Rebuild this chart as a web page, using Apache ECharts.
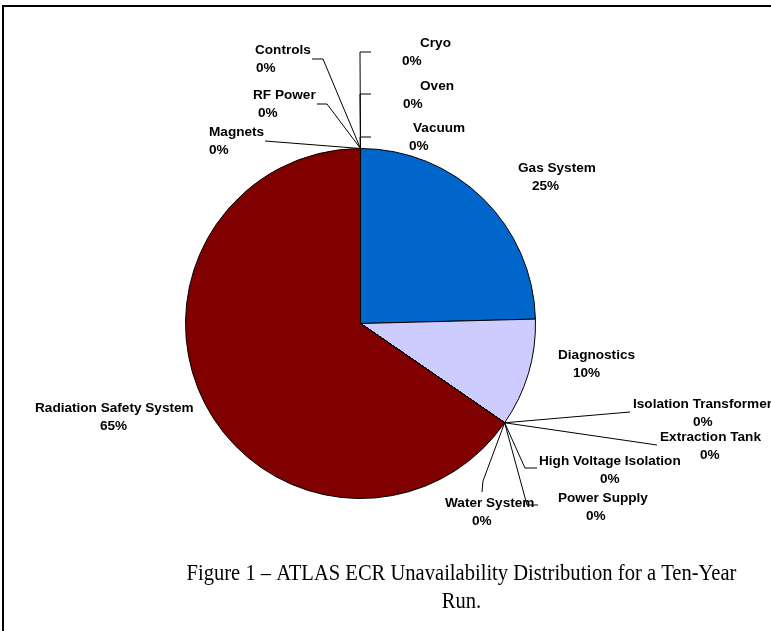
<!DOCTYPE html>
<html>
<head>
<meta charset="utf-8">
<style>
  html, body { margin: 0; padding: 0; background: #fff; }
  #chart { width: 771px; height: 631px; }
</style>
<script src="https://cdn.jsdelivr.net/npm/echarts@6/dist/echarts.min.js"></script>
</head>
<body>
<div id="chart"></div>
<script>
// ---- data ----
const categories = [
  'Cryo', 'Oven', 'Vacuum', 'Gas System', 'Diagnostics',
  'Isolation Transformer', 'Extraction Tank', 'High Voltage Isolation',
  'Power Supply', 'Water System', 'Radiation Safety System',
  'Magnets', 'RF Power', 'Controls'
];
const values = [0, 0, 0, 24.6, 10.0, 0, 0, 0, 0, 0, 65.4, 0, 0, 0];
const colors = [
  '#0066CC', '#0066CC', '#0066CC', '#0066CC', '#CCCCFF',
  '#CCCCFF', '#CCCCFF', '#CCCCFF', '#CCCCFF', '#CCCCFF', '#800000',
  '#800000', '#800000', '#800000'
];
const captionLines = [
  'Figure 1 \u2013 ATLAS ECR Unavailability Distribution for a Ten-Year',
  'Run.'
];

// ---- label layout (name-left x, percent-left x, first line centre y) ----
const labelPos = [
  [420, 402, 43.5], [420, 403, 86], [413, 409, 128], [518, 532, 168],
  [558, 573, 355], [633, 693, 404], [660, 700, 437], [539, 600, 461],
  [558, 586, 498], [445, 472, 503], [35, 100, 408], [209, 209, 132],
  [253, 258, 95], [255, 256, 50]
];
// leader line bends after the slice point (null = no leader line)
const leaderBends = [
  [[360, 52], [371, 52]],
  [[360, 94], [371, 94]],
  [[360, 137], [371, 137]],
  null,
  null,
  [[630, 412]],
  [[657, 445]],
  [[525, 468], [537, 468]],
  [[527, 505], [538, 505]],
  [[483, 481], [482, 492]],
  null,
  [[265, 141]],
  [[327, 104], [317, 104]],
  [[323, 59], [312, 59]]
];

const FONT = '"Liberation Sans", Arial, sans-serif';
const SERIF = '"Liberation Serif", "Times New Roman", serif';
const tok = (pad) => ({
  fontFamily: FONT, fontWeight: 'bold', fontSize: 13.6, lineHeight: 18,
  color: '#000', padding: [0, 0, 0, pad]
});

const pieData = categories.map((name, i) => {
  const p = labelPos[i];
  const m = Math.min(p[0], p[1]);
  return {
    name: name,
    value: values[i],
    itemStyle: { color: colors[i] },
    label: { rich: { n: tok(p[0] - m), p: tok(p[1] - m) } },
    labelLine: { show: leaderBends[i] !== null }
  };
});

const chart = echarts.init(document.getElementById('chart'), null, { renderer: 'canvas' });
chart.setOption({
  animation: false,
  backgroundColor: '#ffffff',
  graphic: [
    {
      type: 'rect', silent: true,
      shape: { x: 3, y: 6, width: 820, height: 700 },
      style: { fill: null, stroke: '#000', lineWidth: 2 }
    },
    {
      type: 'text', x: 461.5, y: 574, scaleX: 0.875,
      style: {
        text: captionLines[0], fontFamily: SERIF,
        fontSize: 23.5, fill: '#000', align: 'center', verticalAlign: 'middle'
      }
    },
    {
      type: 'text', x: 461.5, y: 602, scaleX: 0.875,
      style: {
        text: captionLines[1], fontFamily: SERIF,
        fontSize: 23.5, fill: '#000', align: 'center', verticalAlign: 'middle'
      }
    }
  ],
  series: [{
    type: 'pie',
    center: [360.5, 323.5],
    radius: 175,
    startAngle: 90,
    clockwise: true,
    avoidLabelOverlap: false,
    minShowLabelAngle: 0,
    itemStyle: { borderColor: '#000', borderWidth: 1 },
    label: {
      show: true,
      position: 'outside',
      fontFamily: FONT, fontWeight: 'bold', fontSize: 13.6, lineHeight: 18, color: '#000',
      formatter: (prm) => '{n|' + prm.name + '}\n{p|' + Math.round(prm.percent) + '%}'
    },
    labelLine: { show: true, lineStyle: { color: '#000', width: 1 } },
    emphasis: { disabled: true },
    labelLayout: function (params) {
      const i = params.dataIndex;
      const p = labelPos[i];
      const out = {
        x: Math.min(p[0], p[1]),
        y: p[2] - 9,
        align: 'left',
        verticalAlign: 'top'
      };
      const bends = leaderBends[i];
      if (bends && params.labelLinePoints) {
        out.labelLinePoints = [params.labelLinePoints[0]].concat(bends);
      }
      return out;
    },
    data: pieData
  }]
});
</script>
</body>
</html>
